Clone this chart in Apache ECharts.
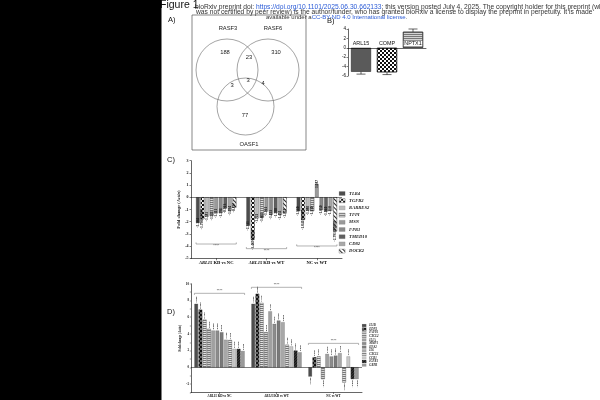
<!DOCTYPE html>
<html><head><meta charset="utf-8">
<script src="https://cdn.jsdelivr.net/npm/echarts@6/dist/echarts.min.js"></script>
<style>html,body{margin:0;padding:0;background:#fff}#c{width:600px;height:400px}</style>
</head><body><div id="c"></div>
<script>
// ---------- data ----------
const vennSetNames = ['RASF3', 'RASF6', 'OASF1'];
// regions: only RASF3, only RASF6, only OASF1, RASF3∩RASF6, RASF3∩OASF1, RASF6∩OASF1, all three
const vennRegionCounts = [188, 310, 77, 23, 3, 4, 3];

const bCategories = ['ARL15', 'COMP', 'NPTX1'];
const bValues = [-5.1, -5.2, 3.4];
const bErrors = [0.5, 0.5, 0.6];

const cGroups = ['ARL15 KD vs NC', 'ARL15 KD vs WT', 'NC vs WT'];
const cGenes = ['TLR4', 'TGFB2', 'RARRES2', 'TFPI', 'MSN', 'FPR1', 'TMED10', 'CD82', 'DOCK2'];
const cKDvsNC = [-2.104, -1.790, -1.583, -1.511, -1.311, -1.294, -0.913, -1.094, -0.837];
const cKDvsWT = [-2.331, -3.469, -1.721, -1.661, -1.161, -1.423, -1.280, -1.451, -1.310];
const cNCvsWT = [-1.140, -1.841, -1.080, -1.130, 1.087, -1.050, -1.160, -1.110, -2.791];

const dGroups = ['ARL15 KD vs NC', 'ARL15 KD vs WT', 'NC vs WT'];
const dGenes = ['IL1B', 'EDN1', 'PAPPA', 'CXCL2', 'IL1A', 'MMP1', 'HAS2', 'IL6', 'CXCL1', 'CCR1', 'IGFR1', 'GRPR'];
const dKDvsNC = [7.6, 6.9, 5.7, 4.6, 4.4, 4.4, 4.2, 3.3, 3.25, 2.2, 2.2, 1.95];
const dKDvsWT = [7.6, 8.8, 7.7, 4.2, 6.7, 5.2, 5.6, 5.4, 2.7, 2.5, 2.0, 1.8];
const dNCvsWT = [-1.1, 1.2, 1.3, -1.4, 1.6, 1.3, 1.4, 1.7, -1.8, 1.3, -1.4, -1.4];

const cSignif = [[0, -3.83], [1, -4.21], [2, -3.99]];
const dSignif = [[0, 8.86], [1, 9.58], [2, 2.87]];

// ---------- styles ----------
const SERIF = 'Liberation Serif';
const SANS = 'Liberation Sans';
const checker = {symbol: 'rect', symbolSize: 1, color: '#111', dashArrayX: [[1.2, 1.2], [0, 1.2, 1.2, 0]], dashArrayY: [1.2, 0], rotation: 0};
const hstripe = {symbol: 'rect', symbolSize: 1, color: '#777', dashArrayX: [1, 0], dashArrayY: [0.8, 1], rotation: 0};
const zigzag = {symbol: 'rect', symbolSize: 1, color: '#222', dashArrayX: [1, 0], dashArrayY: [0.8, 1.2], rotation: Math.PI / 4};
const hatch = {symbol: 'rect', symbolSize: 1, color: '#111', dashArrayX: [1, 0], dashArrayY: [0.8, 0.8], rotation: -Math.PI / 4};

const cFill = ['#4d4d4d', '#ffffff', '#bdbdbd', '#dcdcdc', '#9a9a9a', '#8a8a8a', '#606060', '#a8a8a8', '#ffffff'];
const cDecal = [null, checker, null, hstripe, null, null, null, null, zigzag];
const dFill = ['#4d4d4d', '#6a6a6a', '#e6e6e6', '#d0d0d0', '#a0a0a0', '#8c8c8c', '#7a7a7a', '#a8a8a8', '#e0e0e0', '#c8c8c8', '#3a3a3a', '#9a9a9a'];
const dDecal = [null, checker, hstripe, hstripe, null, null, null, null, hstripe, null, hatch, null];

const axisLine = {show: true, onZero: false, lineStyle: {color: '#000', width: 0.6}};
const axisTick = {show: true, length: 1.5, lineStyle: {color: '#000', width: 0.5}};

function groupLabel(g) {
  if (g.indexOf('ARL15') === 0) return '{i|ARL15}{b|' + g.slice(5) + '}';
  return '{b|' + g + '}';
}
const groupRich = (fs) => ({
  i: {fontFamily: SERIF, fontStyle: 'italic', fontWeight: 'bold', fontSize: fs, color: '#000'},
  b: {fontFamily: SERIF, fontWeight: 'bold', fontSize: fs, color: '#000'}
});

// labelMode: 'center' = label centred on the bar end, 'outside' = beyond the bar end
function barSeries(genes, groupsData, fills, decals, axisIdx, fs, fmt, gap, catGap, labelMode, bw) {
  return genes.map((gene, i) => ({
    name: gene, type: 'bar', xAxisIndex: axisIdx, yAxisIndex: axisIdx,
    barGap: gap, barCategoryGap: catGap,
    data: groupsData.map(arr => arr[i]).map(v => ({
      value: v,
      label: labelMode === 'center'
        ? {position: v < 0 ? 'insideBottom' : 'insideTop', align: 'center', distance: 0}
        : {position: v < 0 ? 'bottom' : 'top', align: v < 0 ? 'right' : 'left'}
    })),
    itemStyle: Object.assign({color: fills[i], borderColor: '#444', borderWidth: bw}, decals[i] ? {decal: decals[i]} : {}),
    label: {show: true, rotate: 90, verticalAlign: 'middle', distance: 1, fontSize: fs,
      fontFamily: SERIF, fontWeight: 'bold', color: '#111',
      formatter: p => fmt(p.value, i, p.dataIndex)},
    emphasis: {disabled: true},
    markLine: i === 0 ? {silent: true, symbol: 'none', label: {show: false},
      lineStyle: {color: '#000', width: 0.5, type: 'solid'}, data: [{yAxis: 0}]} : undefined
  }));
}

const cSeries = barSeries(cGenes, [cKDvsNC, cKDvsWT, cNCvsWT], cFill, cDecal, 1, 3.6,
  (v, gi, di) => (gi === 1 || (gi === 8 && di === 2)) ? v.toFixed(9) : v.toFixed(3), '25%', '20%', 'center', 0.3);
const dSeries = barSeries(dGenes, [dKDvsNC, dKDvsWT, dNCvsWT], dFill, dDecal, 2, 2.8,
  (v) => v.toFixed(3), '20%', '12%', 'outside', 0.2);

function bracketSeries(axisIdx, data, dir, halfFrac) {
  return {
    type: 'custom', xAxisIndex: axisIdx, yAxisIndex: axisIdx, silent: true, z: 4,
    data: data,
    renderItem: (params, api) => {
      const c = api.coord([api.value(0), api.value(1)]);
      const band = api.size([1, 0])[0];
      const h = band * halfFrac;
      const tick = 1.6 * dir;
      const st = {stroke: '#666', lineWidth: 0.5, fill: null};
      return {type: 'group', children: [
        {type: 'polyline', shape: {points: [[c[0] - h, c[1] + tick], [c[0] - h, c[1]], [c[0] + h, c[1]], [c[0] + h, c[1] + tick]]}, style: st},
        {type: 'text', style: {text: '****', x: c[0], y: c[1] - dir * 2.4, align: 'center', verticalAlign: 'middle',
          fontSize: 3.6, fontFamily: SANS, fill: '#444'}}
      ]};
    }
  };
}

const bSeries = [{
  type: 'bar', xAxisIndex: 0, yAxisIndex: 0, barWidth: 20, emphasis: {disabled: true},
  data: bValues.map((v, i) => ({value: v, itemStyle: [
    {color: '#5a5a5a'},
    {color: '#ffffff', decal: checker},
    {color: '#d4d4d4', decal: hstripe}][i]})),
  itemStyle: {borderColor: '#111', borderWidth: 0.5}
}, {
  type: 'custom', xAxisIndex: 0, yAxisIndex: 0, z: 3, silent: true,
  data: bValues.map((v, i) => [i, v, bErrors[i]]),
  renderItem: (params, api) => {
    const x = api.value(0), v = api.value(1), e = api.value(2);
    const p0 = api.coord([x, v]);
    const p1 = api.coord([x, v + (v < 0 ? -e : e)]);
    const st = {stroke: '#000', lineWidth: 0.6};
    return {type: 'group', children: [
      {type: 'line', shape: {x1: p0[0], y1: p0[1], x2: p1[0], y2: p1[1]}, style: st},
      {type: 'line', shape: {x1: p1[0] - 4.5, y1: p1[1], x2: p1[0] + 4.5, y2: p1[1]}, style: st}
    ]};
  }
}];

// ---------- graphics (Venn + page text) ----------
const vennCircles = [[227, 70, 31], [268, 70, 31], [245.5, 106.5, 28.5]];
const vennSetPos = [[228, 28], [273, 28], [249, 144]];
const vennRegionPos = [[225, 52], [276, 52], [245, 115], [249, 57], [232, 85], [263, 83], [248, 80]];

const graphics = [];
graphics.push({type: 'rect', shape: {x: 192, y: 15, width: 114, height: 135}, style: {fill: null, stroke: '#555', lineWidth: 0.7}});
vennCircles.forEach(c => graphics.push({type: 'circle', shape: {cx: c[0], cy: c[1], r: c[2]}, style: {fill: null, stroke: '#666', lineWidth: 0.6}}));
vennSetNames.forEach((n, i) => graphics.push({type: 'text', style: {text: n, x: vennSetPos[i][0], y: vennSetPos[i][1], align: 'center', verticalAlign: 'middle', fontSize: 5.8, fontFamily: SANS, fill: '#222'}}));
vennRegionCounts.forEach((n, i) => graphics.push({type: 'text', style: {text: String(n), x: vennRegionPos[i][0], y: vennRegionPos[i][1], align: 'center', verticalAlign: 'middle', fontSize: 5.8, fontFamily: SANS, fill: '#222'}}));

const panelLabels = [['A)', 168, 20], ['B)', 327, 21], ['C)', 167, 160], ['D)', 167, 312]];
panelLabels.forEach(p => graphics.push({type: 'text', style: {text: p[0], x: p[1], y: p[2], align: 'left', verticalAlign: 'middle', fontSize: 7.5, fontFamily: SANS, fill: '#111'}}));

const hdrRich = {n: {fontSize: 6.7, fontFamily: SANS, fill: '#333'}, l: {fontSize: 6.7, fontFamily: SANS, fill: '#2a5bd7'}};
const hdrRich3 = {n: {fontSize: 6.0, fontFamily: SANS, fill: '#333'}, l: {fontSize: 6.0, fontFamily: SANS, fill: '#2a5bd7'}};
graphics.push({type: 'text', style: {x: 195, y: 6.8, verticalAlign: 'middle', rich: hdrRich,
  text: '{n|bioRxiv preprint doi: }{l|https://doi.org/10.1101/2025.06.30.662133}{n|; this version posted July 4, 2025. The copyright holder for this preprint (which}'}});
graphics.push({type: 'text', style: {x: 196, y: 11.9, verticalAlign: 'middle', rich: hdrRich,
  text: '{n|was not certified by peer review) is the author/funder, who has granted bioRxiv a license to display the preprint in perpetuity. It is made}'}});
graphics.push({type: 'text', style: {x: 266, y: 17, verticalAlign: 'middle', rich: hdrRich3,
  text: '{n|available under a}{l|CC-BY-ND 4.0 International license}{n|.}'}});
graphics.push({type: 'text', style: {text: 'Figure 1', x: 160, y: 5.5, verticalAlign: 'middle', fontSize: 10.5, fontFamily: SANS, fill: '#111'}});
graphics.push({type: 'rect', shape: {x: 0, y: 0, width: 161.5, height: 400}, style: {fill: '#000'}});

// ---------- option ----------
const option = {
  animation: false,
  backgroundColor: '#fff',
  graphic: graphics,
  legend: [{
    data: cGenes, orient: 'vertical', left: 339, top: 191, padding: 0, itemWidth: 6, itemHeight: 4, itemGap: 2.2,
    icon: 'rect', selectedMode: false, itemStyle: {borderWidth: 0.2, borderColor: '#666'},
    textStyle: {fontSize: 4.6, fontFamily: SERIF, fontStyle: 'italic', fontWeight: 'bold', color: '#222', padding: [0, 0, 0, -1]}
  }, {
    data: dGenes, orient: 'vertical', left: 362, top: 324, padding: 0, itemWidth: 4.2, itemHeight: 2.8, itemGap: 0.6,
    icon: 'rect', selectedMode: false, itemStyle: {borderWidth: 0.1, borderColor: '#777'},
    textStyle: {fontSize: 3, fontFamily: SERIF, fontStyle: 'italic', fontWeight: 'bold', color: '#222', padding: [0, 0, 0, -2]}
  }],
  grid: [
    {left: 348, top: 29, width: 78, height: 47},
    {left: 191, top: 160.7, width: 151, height: 97.6},
    {left: 191, top: 283.8, width: 171, height: 108.6}
  ],
  xAxis: [
    {gridIndex: 0, type: 'category', data: bCategories, z: 5, position: 'top', offset: -18.8,
      axisLine: {show: true, onZero: false, lineStyle: {color: '#000', width: 0.6}}, axisTick: {show: false},
      axisLabel: {interval: 0, fontSize: 5.4, margin: 1.5, color: '#111', fontFamily: SANS, backgroundColor: '#fff', padding: [0.5, 0.5, 0, 0.5]}},
    {gridIndex: 1, type: 'category', data: cGroups, axisLine: axisLine,
      axisTick: {show: true, alignWithLabel: true, length: 2, lineStyle: {color: '#000', width: 0.5}},
      axisLabel: {interval: 0, margin: 2.5, formatter: groupLabel, rich: groupRich(4.6)}},
    {gridIndex: 2, type: 'category', data: dGroups, axisLine: axisLine,
      axisTick: {show: true, alignWithLabel: true, length: 1.5, lineStyle: {color: '#000', width: 0.5}},
      axisLabel: {interval: 0, margin: 2, formatter: groupLabel, rich: groupRich(3.2)}}
  ],
  yAxis: [
    {gridIndex: 0, type: 'value', min: -6, max: 4, interval: 2, axisLine: axisLine, axisTick: axisTick, splitLine: {show: false},
      axisLabel: {fontSize: 4.6, margin: 2, color: '#111', fontFamily: SANS}},
    {gridIndex: 1, type: 'value', min: -5, max: 3, interval: 1, axisLine: axisLine, axisTick: axisTick, splitLine: {show: false},
      axisLabel: {fontSize: 4, margin: 2.5, color: '#111', fontFamily: SERIF, fontWeight: 'bold'},
      name: 'Fold change ({i|Actin})', nameLocation: 'middle', nameGap: 9, nameRotate: 90,
      nameTextStyle: {fontSize: 4.6, fontFamily: SERIF, fontWeight: 'bold', color: '#111',
        rich: {i: {fontSize: 4.6, fontFamily: SERIF, fontWeight: 'bold', fontStyle: 'italic', color: '#111'}}}},
    {gridIndex: 2, type: 'value', min: -3, max: 10, interval: 1, axisLine: axisLine, axisTick: {show: true, length: 1.2, lineStyle: {color: '#000', width: 0.4}}, splitLine: {show: false},
      axisLabel: {fontSize: 3.2, margin: 2, color: '#111', fontFamily: SERIF, fontWeight: 'bold', formatter: v => (v % 2 === 0 ? String(v) : '')},
      name: 'Fold change ({i|Actin})', nameLocation: 'middle', nameGap: 7, nameRotate: 90,
      nameTextStyle: {fontSize: 3.2, fontFamily: SERIF, fontWeight: 'bold', color: '#111',
        rich: {i: {fontSize: 3.2, fontFamily: SERIF, fontWeight: 'bold', fontStyle: 'italic', color: '#111'}}}}
  ],
  series: [].concat(bSeries, cSeries, dSeries,
    [bracketSeries(1, cSignif, -1, 0.4), bracketSeries(2, dSignif, 1, 0.44)])
};

const chart = echarts.init(document.getElementById('c'));
chart.setOption(option);
</script>
</body></html>
